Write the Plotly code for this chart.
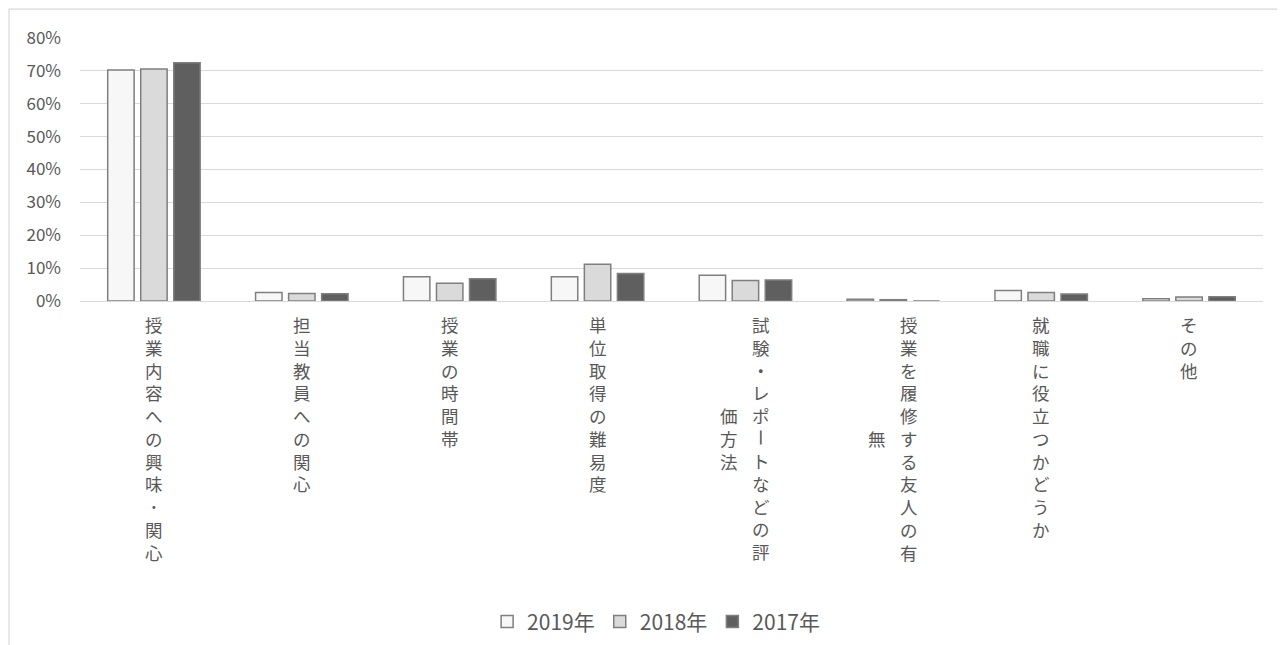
import plotly.graph_objects as go

# データ
categories = [
    '授業内容への興味･関心',
    '担当教員への関心',
    '授業の時間帯',
    '単位取得の難易度',
    '試験・レポートなどの評価方法',
    '授業を履修する友人の有無',
    '就職に役立つかどうか',
    'その他',
]
years = ['2019年', '2018年', '2017年']
v2019 = [0.703, 0.026, 0.074, 0.074, 0.078, 0.005, 0.032, 0.007]
v2018 = [0.706, 0.023, 0.054, 0.112, 0.062, 0.004, 0.026, 0.012]
v2017 = [0.725, 0.022, 0.068, 0.084, 0.064, 0.0, 0.021, 0.013]
y_ticks = [0, 0.1, 0.2, 0.3, 0.4, 0.5, 0.6, 0.7, 0.8]

fills = ['#f7f7f7', '#dadada', '#5f5f5f']
text_color = '#595959'
font_jp = 'Noto Sans CJK JP'

fig = go.Figure()
for name, vals, fc in zip(years, [v2019, v2018, v2017], fills):
    fig.add_trace(go.Bar(
        x=categories, y=vals, name=name,
        marker=dict(color=fc, line=dict(color='#7f7f7f', width=1.5)),
    ))

# 縦書きのカテゴリラベル（11文字で折り返し、右の列から）
max_chars = 11
lab_size = 17.5
pitch = 1.3 * lab_size   # <br> の行間
top_pad = 12


def add_run(cat, chars, start, center0, xshift, rotate=False):
    # start: 列の先頭からの文字位置
    mid = center0 + pitch * (start + (len(chars) - 1) / 2)
    fig.add_annotation(
        x=cat, xref='x', y=0, yref='paper',
        yanchor='middle', xanchor='center',
        yshift=-mid, xshift=xshift,
        text='<br>'.join(chars), showarrow=False, borderpad=0,
        textangle=90 if rotate else 0,
        font=dict(family=font_jp, size=lab_size, color=text_color),
    )


for cat in categories:
    cols = [cat[i:i + max_chars] for i in range(0, len(cat), max_chars)]
    n = len(cols)
    first_mid = top_pad + pitch * len(cols[0]) / 2
    for k, col in enumerate(cols):
        xshift = (n - 1) * 16 - k * 32
        center0 = first_mid - pitch * len(col) / 2 + pitch / 2
        run, run_start = [], 0
        for i, ch in enumerate(col):
            if ch == 'ー':
                if run:
                    add_run(cat, run, run_start, center0, xshift)
                add_run(cat, [ch], i, center0, xshift, rotate=True)
                run, run_start = [], i + 1
            else:
                run.append(ch)
        if run:
            add_run(cat, run, run_start, center0, xshift)

# グラフエリアの枠線
fig.add_shape(type='rect', xref='paper', yref='paper',
              x0=-0.06, x1=1.06, y0=-1.7, y1=1.11,
              line=dict(color='#d9d9d9', width=1.2), fillcolor='rgba(0,0,0,0)',
              layer='below')

# ページの余白 (8px) を考慮してマージンを調整
fig.update_layout(
    width=1285, height=645,
    margin=dict(l=72, r=30, t=30, b=351),
    plot_bgcolor='white', paper_bgcolor='white',
    barmode='group', bargap=0.33, bargroupgap=0.2,
    font=dict(family=font_jp, color=text_color),
    legend=dict(
        orientation='h', x=0.487, xanchor='center', y=-1.212, yanchor='middle',
        font=dict(family=font_jp, size=21, color=text_color),
        itemwidth=30, traceorder='normal',
    ),
    xaxis=dict(showticklabels=False, showgrid=False, showline=False, zeroline=False),
    yaxis=dict(
        range=[0, 0.8], tickvals=y_ticks, tickformat='.0%',
        showgrid=True, gridcolor='#d9d9d9', gridwidth=1.3,
        zeroline=True, zerolinecolor='#d9d9d9', zerolinewidth=1.3,
        showline=False, ticklabelstandoff=18,
        tickfont=dict(family=font_jp, size=17, color=text_color),
    ),
)

fig.write_html('out.html')
